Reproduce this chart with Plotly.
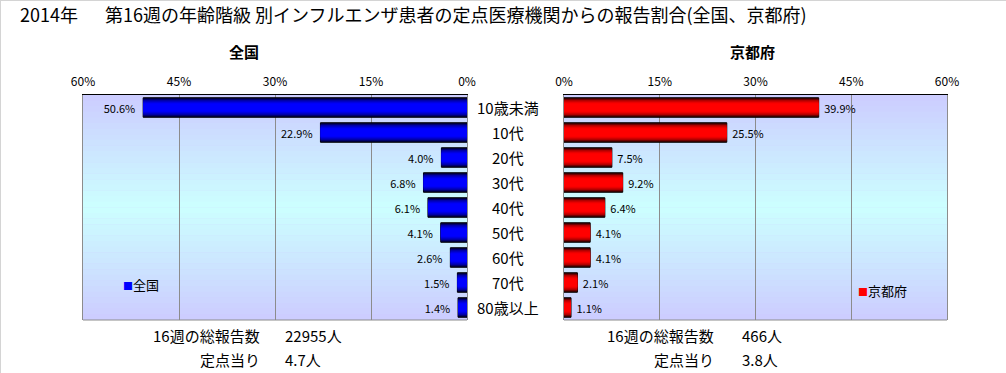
import plotly.graph_objects as go

# ---------------- data ----------------
categories = ["10歳未満", "10代", "20代", "30代", "40代", "50代", "60代", "70代", "80歳以上"]
national = [50.6, 22.9, 4.0, 6.8, 6.1, 4.1, 2.6, 1.5, 1.4]
kyoto = [39.9, 25.5, 7.5, 9.2, 6.4, 4.1, 4.1, 2.1, 1.1]
tick_vals = [0, 15, 30, 45, 60]
tick_text = ["0%", "15%", "30%", "45%", "60%"]
title_text = "2014年\u3000\u2002第16週の年齢階級 別インフルエンザ患者の定点医療機関からの報告割合(全国、京都府)"
panel_titles = ["全国", "京都府"]
footer_labels = ["16週の総報告数", "定点当り"]
national_footer = ["22955人", "4.7人"]
kyoto_footer = ["466人", "3.8人"]

FONT = "Noto Sans CJK JP"
W, H = 1006, 373


def px_x(p):
    return p / W


def px_y(p):
    return 1 - p / H


# shading layers (colour, bar thickness) to imitate the cylindrical gradient
blue_layers = [("#000030", 0.78), ("#000070", 0.70), ("#0000a8", 0.60), ("#0000e0", 0.48), ("#0000ff", 0.34)]
red_layers = [("#300000", 0.78), ("#700000", 0.70), ("#b00000", 0.60), ("#e80000", 0.48), ("#ff0000", 0.34)]

fig = go.Figure()


def add_bars(values, layers, xa, ya, name, template):
    for i, (col, w) in enumerate(layers):
        outer = i == 0
        fig.add_trace(go.Bar(
            y=categories, x=values, orientation="h", width=w,
            name=name, showlegend=False,
            marker=dict(color=col, line=dict(color="#000000", width=1 if outer else 0)),
            text=[template.format(v) for v in values] if outer else None,
            textposition="outside" if outer else "none",
            textfont=dict(family=FONT, size=11, color="#000000"),
            constraintext="none", cliponaxis=False,
            xaxis=xa, yaxis=ya, hoverinfo="skip" if not outer else None,
        ))


add_bars(national, blue_layers, "x", "y", "全国", "{:.1f}%\u00a0\u00a0")
add_bars(kyoto, red_layers, "x2", "y2", "京都府", "\u00a0{:.1f}%")

ydom = [px_y(320), px_y(95)]
grid = "#8c8c8c"
common_x = dict(side="top", tickvals=tick_vals, ticktext=tick_text, showgrid=True,
                gridcolor=grid, gridwidth=1, zeroline=False, showline=True,
                linecolor="#000000", linewidth=1, ticks="", ticklabelstandoff=3,
                tickfont=dict(family=FONT, size=12, color="#000000"), fixedrange=True,
                automargin=False)
common_y = dict(domain=ydom, type="category", categoryorder="array", categoryarray=categories,
                autorange="reversed", showticklabels=False, showgrid=False, zeroline=False,
                showline=True, linecolor="#8c8c8c", linewidth=1, mirror=True, ticks="",
                fixedrange=True, automargin=False)

fig.update_layout(
    width=W, height=H,
    margin=dict(l=0, r=0, t=0, b=0, pad=0, autoexpand=False),
    paper_bgcolor="#ffffff", plot_bgcolor="#ccccff",
    barmode="overlay", bargap=0.2,
    showlegend=False,
    font=dict(family=FONT, size=12, color="#000000"),
    xaxis=dict(domain=[px_x(83), px_x(467)], range=[60, 0], anchor="y", **common_x),
    xaxis2=dict(domain=[px_x(564), px_x(947)], range=[0, 60], anchor="y2", **common_x),
    yaxis=dict(anchor="x", **common_y),
    yaxis2=dict(anchor="x2", **common_y),
)

# background gradient strips (lavender -> light cyan -> lavender)
shapes = []
N = 40
lav = (204, 204, 255)
cyan = (204, 255, 255)
for xr, yr in (("x domain", "y domain"), ("x2 domain", "y2 domain")):
    for k in range(N):
        t = (k + 0.5) / N
        f = 1 - abs(t - 0.5) * 2
        c = tuple(round(lav[j] + (cyan[j] - lav[j]) * f) for j in range(3))
        shapes.append(dict(type="rect", xref=xr, yref=yr, x0=0, x1=1,
                           y0=1 - (k + 1) / N, y1=1 - k / N + 0.001,
                           fillcolor="rgb(%d,%d,%d)" % c, line=dict(width=0), layer="below"))
    shapes.append(dict(type="line", xref=xr, yref=yr, x0=0, x1=1, y0=0, y1=0,
                       line=dict(color="#8c8c8c", width=1)))
# outer light frame of the picture
shapes.append(dict(type="line", xref="paper", yref="paper", x0=0, x1=1, y0=1, y1=1,
                   line=dict(color="#d4d4d4", width=2)))
shapes.append(dict(type="line", xref="paper", yref="paper", x0=0, x1=0, y0=0, y1=1,
                   line=dict(color="#d4d4d4", width=2)))
fig.update_layout(shapes=shapes)


def note(text, x, y, size, xanchor="center", yref="paper", **kw):
    return dict(text=text, x=x, y=y, xref="paper", yref=yref, showarrow=False,
                xanchor=xanchor, yanchor="middle", font=dict(family=FONT, size=size), **kw)


ann = []
# chart title
ann.append(note(title_text, px_x(18), px_y(14), 18, xanchor="left"))
# panel titles
ann.append(note("<b>%s</b>" % panel_titles[0], px_x(244), px_y(52), 15))
ann.append(note("<b>%s</b>" % panel_titles[1], px_x(752), px_y(52), 15))
# category labels between the panels
for c in categories:
    ann.append(note(c, px_x(508), c, 15, yref="y"))
# legend-like keys
ann.append(note('<span style="color:#0000ff;font-size:10px">■</span>全国',
                px_x(121), px_y(284), 13, xanchor="left"))
ann.append(note('<span style="color:#ff0000;font-size:10px">■</span>京都府',
                px_x(856), px_y(290), 13, xanchor="left"))
# footers
rows_y = [335, 359]
for (lx, vx, vals) in ((262, 283, national_footer), (716, 740, kyoto_footer)):
    for lab, val, yy in zip(footer_labels, vals, rows_y):
        ann.append(note(lab, px_x(lx), px_y(yy), 15, xanchor="right"))
        ann.append(note(val, px_x(vx), px_y(yy), 15, xanchor="left"))
fig.update_layout(annotations=ann)

fig.write_html("out.html", config={"displayModeBar": False},
               post_script="document.body.style.margin='0';document.body.style.overflow='hidden';")
